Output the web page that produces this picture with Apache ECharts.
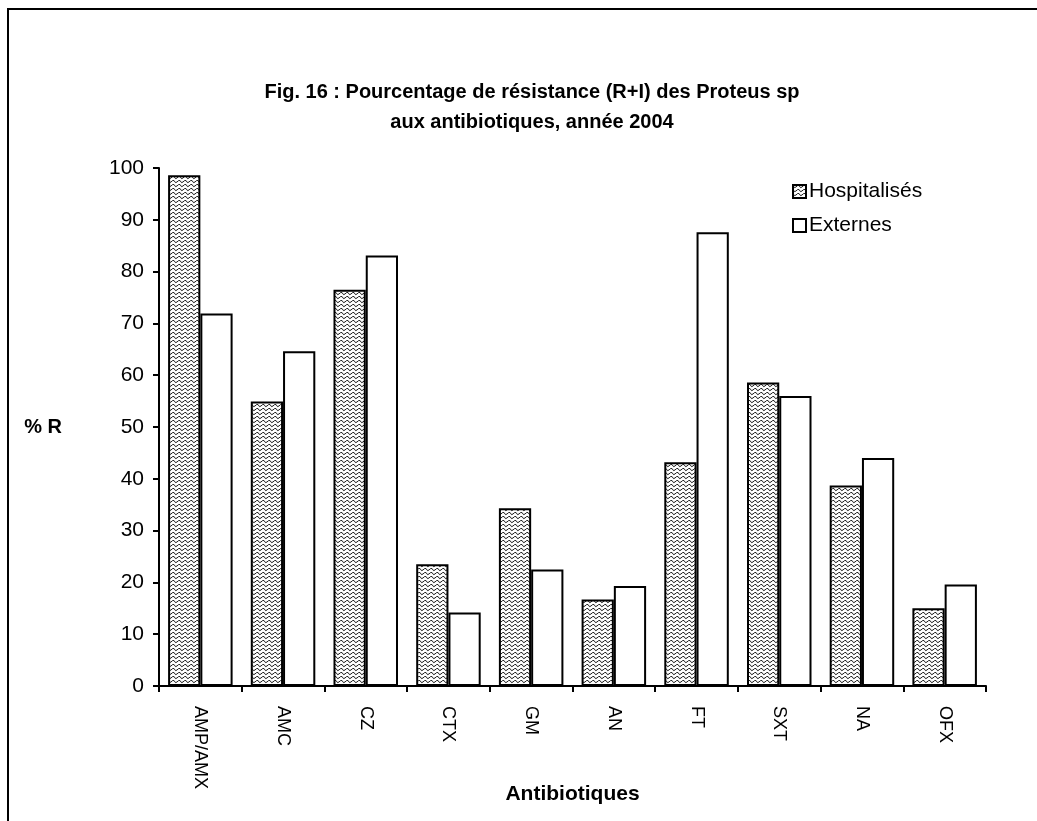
<!DOCTYPE html>
<html>
<head>
<meta charset="utf-8">
<script src="https://cdn.jsdelivr.net/npm/echarts@6/dist/echarts.min.js"></script>
<style>
  html, body { margin: 0; padding: 0; background: #fff; }
  #chart { width: 1037px; height: 821px; }
</style>
</head>
<body>
<div id="chart"></div>
<script>
// données
const categories = ['AMP/AMX', 'AMC', 'CZ', 'CTX', 'GM', 'AN', 'FT', 'SXT', 'NA', 'OFX'];
const hospitalises = [98.6, 54.9, 76.5, 23.5, 34.3, 16.7, 43.2, 58.6, 38.7, 15.0];
const externes = [71.9, 64.6, 83.1, 14.2, 22.5, 19.3, 87.6, 56.0, 44.0, 19.6];
const yTicks = [0, 10, 20, 30, 40, 50, 60, 70, 80, 90, 100];

const FONT = '"Liberation Sans", Arial, sans-serif';

// motif ondulé pour les hospitalisés
function makePattern() {
    const c = document.createElement('canvas');
    c.width = 6;
    c.height = 4;
    const ctx = c.getContext('2d');
    ctx.fillStyle = '#fff';
    ctx.fillRect(0, 0, 6, 4);
    ctx.strokeStyle = '#000';
    ctx.lineWidth = 0.9;
    ctx.beginPath();
    ctx.moveTo(0, 0.5);
    ctx.quadraticCurveTo(1.5, 4, 3, 2);
    ctx.quadraticCurveTo(4.5, 0, 6, 0.5);
    ctx.stroke();
    return c;
}

const chart = echarts.init(document.getElementById('chart'));

const option = {
    animation: false,
    backgroundColor: '#fff',
    title: {
        text: 'Fig. 16 : Pourcentage de résistance (R+I) des Proteus sp\naux antibiotiques, année 2004',
        left: 527,
        top: 72,
        textAlign: 'center',
        textStyle: {
            fontFamily: FONT,
            fontSize: 20,
            fontWeight: 'bold',
            color: '#000',
            lineHeight: 30
        }
    },
    legend: {
        orient: 'vertical',
        left: 787,
        top: 176,
        icon: 'rect',
        itemWidth: 13,
        itemHeight: 13,
        itemGap: 13,
        textStyle: { fontFamily: FONT, fontSize: 21, color: '#000', padding: [0, 0, 0, -2] },
        data: ['Hospitalisés', 'Externes']
    },
    grid: {
        left: 159,
        top: 168,
        width: 827,
        height: 518
    },
    xAxis: {
        type: 'category',
        data: categories,
        name: 'Antibiotiques',
        nameLocation: 'middle',
        nameGap: 98,
        nameMoveOverlap: false,
        nameTextStyle: { fontFamily: FONT, fontSize: 21, fontWeight: 'bold', color: '#000', verticalAlign: 'top' },
        axisLine: { lineStyle: { color: '#000', width: 2 } },
        axisTick: { show: true, length: 6, lineStyle: { color: '#000', width: 2 } },
        axisLabel: {
            rotate: -90,
            margin: 20,
            fontFamily: FONT,
            fontSize: 18,
            color: '#000'
        },
        splitLine: { show: false }
    },
    yAxis: {
        type: 'value',
        min: yTicks[0],
        max: yTicks[yTicks.length - 1],
        interval: 10,
        name: '% R',
        nameLocation: 'middle',
        nameRotate: 0,
        nameGap: 97,
        nameTextStyle: { fontFamily: FONT, fontSize: 20, fontWeight: 'bold', color: '#000', padding: [24, 0, 0, 0] },
        axisLine: { show: true, lineStyle: { color: '#000', width: 2 } },
        axisTick: { show: true, inside: false, length: 6, lineStyle: { color: '#000', width: 2 } },
        axisLabel: { fontFamily: FONT, fontSize: 21, color: '#000', margin: 15 },
        splitLine: { show: false }
    },
    series: [
        {
            name: 'Hospitalisés',
            type: 'bar',
            data: hospitalises,
            barGap: '0%',
            barCategoryGap: '22%',
            itemStyle: {
                color: { image: makePattern(), repeat: 'repeat' },
                borderColor: '#000',
                borderWidth: 2
            }
        },
        {
            name: 'Externes',
            type: 'bar',
            data: externes,
            barGap: '0%',
            barCategoryGap: '22%',
            itemStyle: {
                color: '#fff',
                borderColor: '#000',
                borderWidth: 2
            }
        }
    ],
    graphic: [
        {
            type: 'rect',
            shape: { x: 8, y: 9, width: 1100, height: 900 },
            style: { fill: null, stroke: '#000', lineWidth: 2 },
            silent: true
        }
    ]
};

chart.setOption(option);
</script>
</body>
</html>
